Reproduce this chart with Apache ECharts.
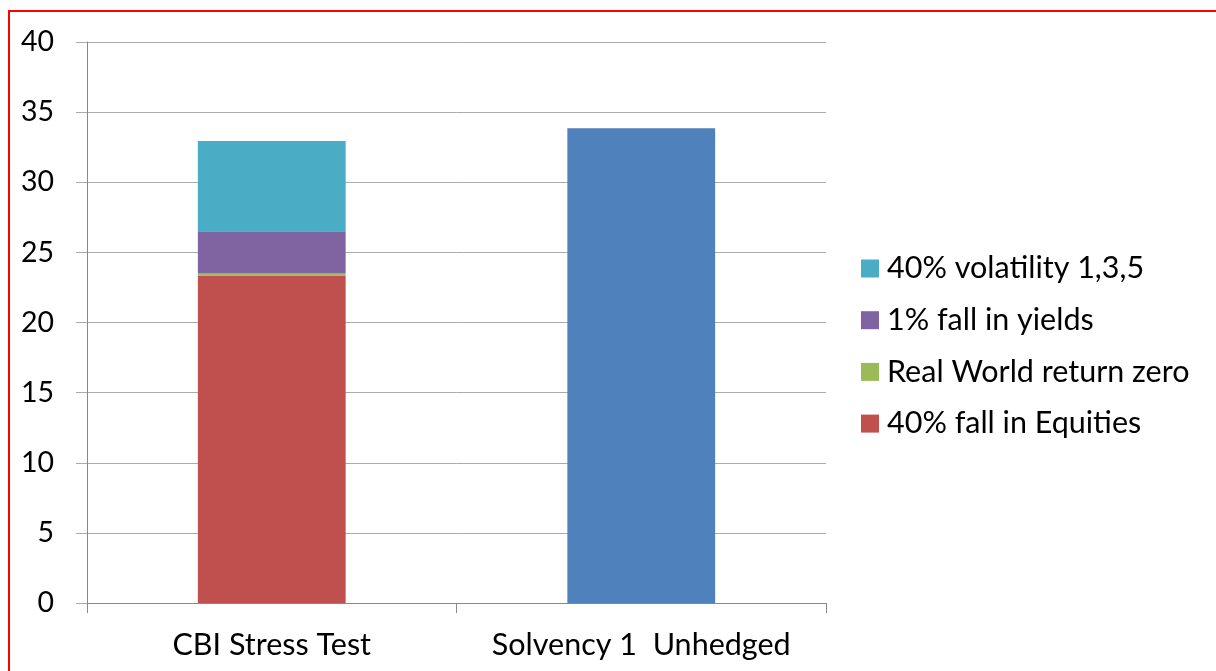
<!DOCTYPE html>
<html>
<head>
<meta charset="utf-8">
<script src="https://cdn.jsdelivr.net/npm/echarts@6/dist/echarts.min.js"></script>
<style>
  html, body { margin: 0; padding: 0; background: #fff; overflow: hidden; }
  #main { width: 1216px; height: 671px; }
  #frame { position: absolute; left: 8px; top: 10px; width: 1300px; height: 800px;
           border-top: 2px solid #ff0000; border-left: 2px solid #ff0000; pointer-events: none; }
</style>
</head>
<body>
<div id="main"></div>
<div id="frame"></div>
<script>
// categories and values
var categories = ['CBI Stress Test', 'Solvency 1  Unhedged'];
var equities = [23.35, '-'];
var realWorld = [0.15, '-'];
var yields = [3.0, '-'];
var volatility = [6.45, '-'];
var solvency = ['-', 33.85];
var legendOrder = ['40% volatility 1,3,5', '1% fall in yields', 'Real World return zero', '40% fall in Equities'];

var font = 'Lato, "Liberation Sans", sans-serif';
var gridColor = '#ababab';

var myChart = echarts.init(document.getElementById('main'));

function bar(name, data, color) {
  return {
    name: name,
    type: 'bar',
    stack: 'total',
    barWidth: '40%',
    data: data,
    itemStyle: { color: color },
    emphasis: { disabled: true }
  };
}

var option = {
  animation: false,
  textStyle: { fontFamily: font },
  grid: { left: 87, right: 390, top: 42, bottom: 68 },
  legend: {
    orient: 'vertical',
    left: 856,
    top: 248,
    itemWidth: 18,
    itemHeight: 18,
    itemGap: 20.7,
    icon: 'rect',
    data: legendOrder,
    textStyle: { fontSize: 30.5, lineHeight: 30, color: '#000', fontFamily: font, padding: [0, 0, 0, 3] }
  },
  xAxis: {
    type: 'category',
    data: categories,
    axisLine: { lineStyle: { color: '#888', width: 1 } },
    axisTick: { show: true, length: 10, lineStyle: { color: '#888' } },
    axisLabel: { interval: 0, fontSize: 30.5, color: '#000', margin: 27, fontFamily: font }
  },
  yAxis: {
    type: 'value',
    min: 0,
    max: 40,
    interval: 5,
    axisLine: { show: true, lineStyle: { color: '#888' } },
    axisTick: { show: true, length: 11, lineStyle: { color: gridColor } },
    splitLine: { lineStyle: { color: gridColor } },
    axisLabel: { fontSize: 28.5, color: '#000', margin: 33, fontFamily: font }
  },
  series: [
    bar('40% fall in Equities', equities, '#C0504D'),
    bar('Real World return zero', realWorld, '#9BBB59'),
    bar('1% fall in yields', yields, '#8064A2'),
    bar('40% volatility 1,3,5', volatility, '#4BACC6'),
    bar('Solvency 1 Unhedged', solvency, '#4F81BD')
  ]
};

myChart.setOption(option);
</script>
</body>
</html>
